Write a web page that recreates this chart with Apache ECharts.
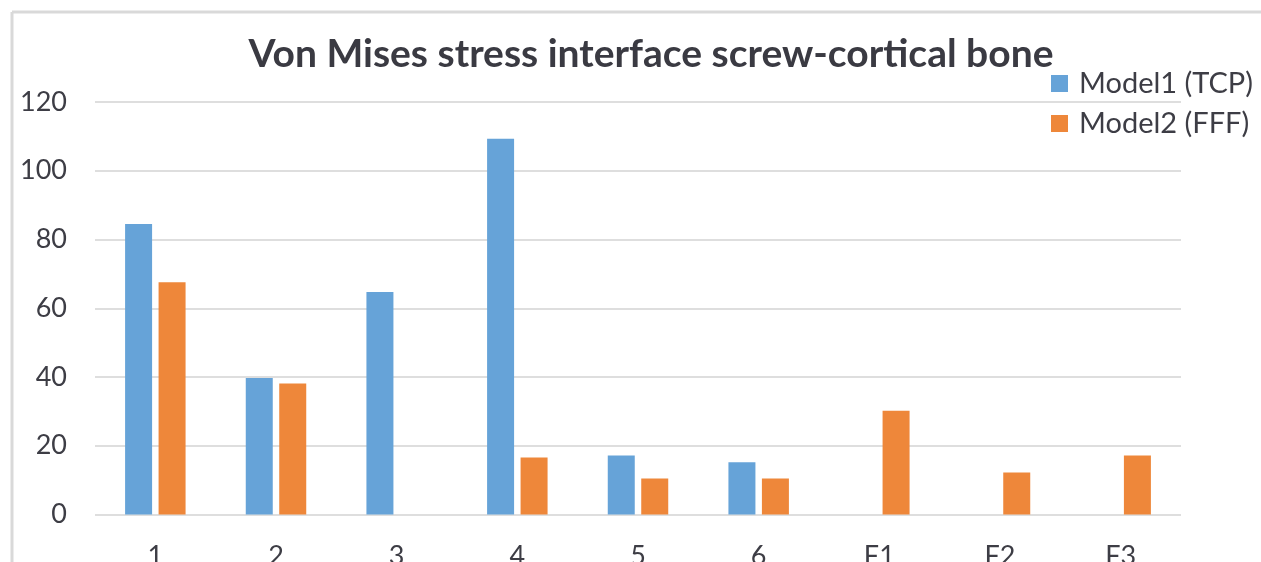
<!DOCTYPE html>
<html>
<head>
<meta charset="utf-8">
<script src="https://cdn.jsdelivr.net/npm/echarts@6/dist/echarts.min.js"></script>
<style>
  html, body { margin: 0; padding: 0; background: #fff; }
  #chart { width: 1261px; height: 562px; }
</style>
</head>
<body>
<div id="chart"></div>
<script>
const categories = ["1", "2", "3", "4", "5", "6", "F1", "F2", "F3"];
const model1 = [84.5, 39.7, 64.7, 109.3, 17.2, 15.2, "-", "-", "-"];
const model2 = [67.6, 38.1, "-", 16.6, 10.5, 10.5, 30.2, 12.2, 17.2];
const yTicks = [0, 20, 40, 60, 80, 100, 120];

const font = "Lato";
const textColor = "#3d3d45";

let myChart = echarts.init(document.getElementById("chart"));
myChart.setOption({
  animation: false,
  title: {
    text: "Von Mises stress interface screw-cortical bone",
    left: 646,
    textAlign: "center",
    top: 30,
    textStyle: { fontFamily: font, fontSize: 39, fontWeight: "bold", color: "#3a3a42" }
  },
  legend: {
    orient: "vertical",
    left: 1046,
    top: 64,
    itemWidth: 17,
    itemHeight: 17,
    itemGap: 11,
    icon: "rect",
    textStyle: { fontFamily: font, fontSize: 29, color: textColor, padding: [0, 0, 0, 6] },
    data: ["Model1 (TCP)", "Model2 (FFF)"]
  },
  // frame around the picture (grey border top / left)
  graphic: [
    { type: "line", shape: { x1: 12, y1: 12, x2: 1261, y2: 12 }, style: { stroke: "#d9d9d9", lineWidth: 3 } },
    { type: "line", shape: { x1: 12, y1: 12, x2: 12, y2: 562 }, style: { stroke: "#d9d9d9", lineWidth: 3 } }
  ],
  grid: { left: 95, right: 80, top: 102, bottom: 47.5, outerBoundsMode: "none", containLabel: false },
  xAxis: {
    type: "category",
    data: categories,
    axisLine: { show: false },
    axisTick: { show: false },
    axisLabel: { margin: 28, fontFamily: font, fontSize: 27, color: textColor }
  },
  yAxis: {
    type: "value",
    min: yTicks[0],
    max: yTicks[yTicks.length - 1],
    interval: 20,
    axisLine: { show: false },
    axisTick: { show: false },
    axisLabel: { margin: 28, fontFamily: font, fontSize: 27, color: textColor },
    splitLine: { lineStyle: { color: "#dedede", width: 2 } }
  },
  series: [
    {
      name: "Model1 (TCP)",
      type: "bar",
      barWidth: 27,
      barGap: "24%",
      itemStyle: { color: "#66a3d8" },
      data: model1
    },
    {
      name: "Model2 (FFF)",
      type: "bar",
      barWidth: 27,
      barGap: "24%",
      itemStyle: { color: "#ee873a" },
      data: model2
    }
  ]
});
</script>
</body>
</html>
